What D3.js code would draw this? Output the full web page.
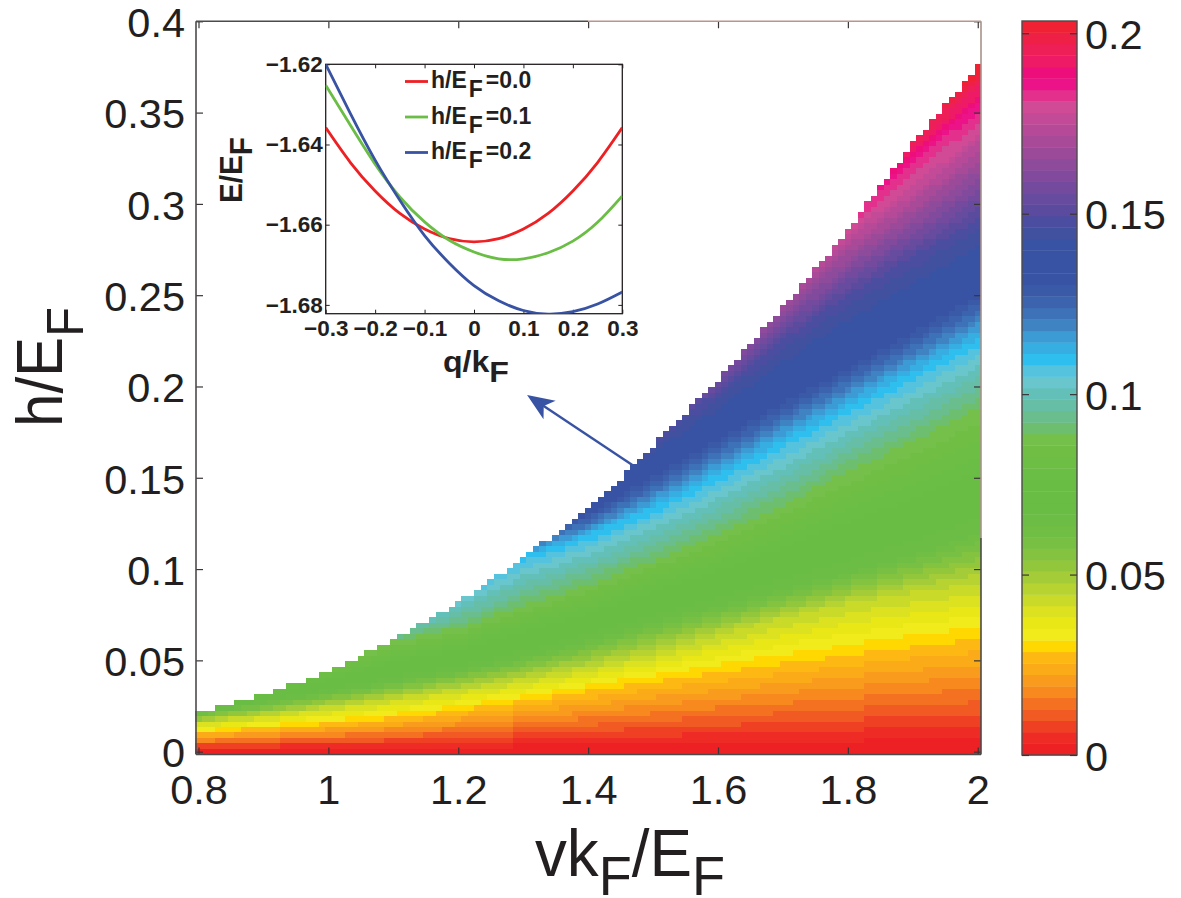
<!DOCTYPE html>
<html>
<head>
<meta charset="utf-8">
<script src="https://cdn.jsdelivr.net/npm/d3@7"></script>
<style>
  html, body { margin: 0; padding: 0; background: #fff; }
  svg { display: block; }
  text { font-family: "Liberation Sans", Arial, sans-serif; fill: #231f20; }
  .inset text { font-weight: bold; }
</style>
</head>
<body>
<div id="chart"></div>
<script>
var xTicks = [0.8, 1, 1.2, 1.4, 1.6, 1.8, 2];
var yTicks = [0, 0.05, 0.1, 0.15, 0.2, 0.25, 0.3, 0.35, 0.4];
var xTickLabels = ["0.8", "1", "1.2", "1.4", "1.6", "1.8", "2"];
var yTickLabels = ["0", "0.05", "0.1", "0.15", "0.2", "0.25", "0.3", "0.35", "0.4"];
var barTicks = [0, 0.05, 0.1, 0.15, 0.2];
var barTickLabels = ["0", "0.05", "0.1", "0.15", "0.2"];

// 64 colours of the bar, bottom to top
var colormap = [
  "#ed2024", "#ef2b25", "#f04024", "#f15a22", "#f47121", "#f7891f", "#f99b1c", "#fbaa18",
  "#fdb813", "#ffd802", "#f1eb1c", "#eae716", "#dce120", "#c9da29", "#b6d331", "#a3cc38",
  "#92c73c", "#84c33f", "#78c043", "#70be44", "#6bbd45", "#69bd45", "#69bd45", "#69bd45",
  "#6abd45", "#6dbe45", "#70bf44", "#74c04a", "#6dbe6e", "#6abd8c", "#66bea6", "#63c0b8",
  "#68c6cc", "#55c3dd", "#2fbfef", "#37aee2", "#3c9ad4", "#3f83c2", "#3d72b8", "#3c63ae",
  "#3a5aa8", "#3953a4", "#3953a4", "#3953a4", "#3953a4", "#41509f", "#4b4da0", "#5a4b9f",
  "#664b9f", "#744a9f", "#814a9d", "#8e4a9b", "#9b4a99", "#a94a98", "#b64a98", "#c24a97",
  "#d04a96", "#e3308d", "#ec1287", "#ed0e7c", "#ee1a66", "#ee1f56", "#ef2045", "#ef2132"
];
var barMax = 0.2034;

var sampleV = [0.8, 0.9, 1.0, 1.1, 1.2, 1.3, 1.4, 1.5, 1.6, 1.7, 1.8, 1.9, 2.0];
// upper edge of the coloured region
var edgeH = [0.0212, 0.0310, 0.0437, 0.0612, 0.0820, 0.1062, 0.1324, 0.1675, 0.2035, 0.2430, 0.2857, 0.3334, 0.3750];

// h where the map reaches each colour level (values beyond the edge are never drawn)
var levels = [0, 0.0302, 0.0445, 0.0636, 0.0890, 0.1097, 0.1336, 0.1479, 0.1780, 0.1850, 0.2034];
var levelH0 = [0, 0, 0, 0, 0, 0, 0, 0, 0, 0, 0, 0, 0];
var levelH1 = [0.0108, 0.0135, 0.0163, 0.0195, 0.0239, 0.0294, 0.0349, 0.0404, 0.0458, 0.0508, 0.0557, 0.0606, 0.0650];
var levelH2 = [0.0163, 0.0201, 0.0245, 0.0294, 0.0343, 0.0398, 0.0464, 0.0540, 0.0634, 0.0732, 0.0814, 0.0875, 0.0924];
var levelH3 = [0.0212, 0.0267, 0.0321, 0.0382, 0.0442, 0.0513, 0.0601, 0.0705, 0.0798, 0.0885, 0.0979, 0.1077, 0.1187];
var levelH4 = [0.0283, 0.0365, 0.0475, 0.0601, 0.0677, 0.0803, 0.0913, 0.1050, 0.1190, 0.1350, 0.1540, 0.1700, 0.1880];
var levelH5 = [0.0338, 0.0447, 0.0557, 0.0694, 0.0869, 0.1061, 0.1176, 0.1324, 0.1504, 0.1690, 0.1877, 0.2063, 0.2249];
var levelH6 = [0.0393, 0.0530, 0.0666, 0.0831, 0.0995, 0.1187, 0.1313, 0.1532, 0.1734, 0.1937, 0.2134, 0.2331, 0.2528];
var levelH7 = [0.0436, 0.0612, 0.0776, 0.0940, 0.1105, 0.1241, 0.1433, 0.1700, 0.1960, 0.2240, 0.2490, 0.2693, 0.2895];
var levelH8 = [0.0502, 0.0694, 0.0858, 0.1022, 0.1187, 0.1351, 0.1543, 0.1926, 0.2227, 0.2556, 0.2846, 0.3092, 0.3388];
var levelH9 = [0.0557, 0.0749, 0.0913, 0.1077, 0.1241, 0.1406, 0.1597, 0.1981, 0.2282, 0.2638, 0.2923, 0.3240, 0.3514];
var levelH10 = [0.0612, 0.0803, 0.0968, 0.1132, 0.1296, 0.1460, 0.1652, 0.2035, 0.2337, 0.2704, 0.2994, 0.3420, 0.3760];
var levelTable = [levelH0, levelH1, levelH2, levelH3, levelH4, levelH5, levelH6, levelH7, levelH8, levelH9, levelH10];

// inset curves
var q = [-0.3, -0.25, -0.2, -0.15, -0.1, -0.05, 0, 0.05, 0.1, 0.15, 0.2, 0.25, 0.3];
var energy00 = [-1.6358, -1.6445, -1.6516, -1.6572, -1.6611, -1.6635, -1.6643, -1.6635, -1.6611, -1.6572, -1.6516, -1.6445, -1.6358];
var energy01 = [-1.6252, -1.6352, -1.6449, -1.6531, -1.6593, -1.6639, -1.6668, -1.6685, -1.6685, -1.6670, -1.6641, -1.6594, -1.6528];
var energy02 = [-1.6200, -1.6323, -1.6439, -1.6539, -1.6627, -1.6696, -1.6752, -1.6790, -1.6814, -1.6823, -1.6817, -1.6798, -1.6768];
var insetSeries = [
  {label: "0.0", color: "#ed2024", values: energy00},
  {label: "0.1", color: "#6abd45", values: energy01},
  {label: "0.2", color: "#3953a4", values: energy02}
];
var qTicks = [-0.3, -0.2, -0.1, 0, 0.1, 0.2, 0.3];
var qTickLabels = ["\u22120.3", "\u22120.2", "\u22120.1", "0", "0.1", "0.2", "0.3"];
var eTicks = [-1.62, -1.64, -1.66, -1.68];
var eTickLabels = ["\u22121.62", "\u22121.64", "\u22121.66", "\u22121.68"];

var svg = d3.select("#chart").append("svg").attr("width", 1181).attr("height", 898);

// ---- main map
var dv = 0.01, dh = 0.003;
var x = d3.scaleLinear().domain([0.795, 2.005]).range([195.25, 981]);
var y = d3.scaleLinear().domain([-0.0015, 0.4]).range([754.4, 21.3]);
var color = d3.scaleQuantize().domain([0, barMax]).range(colormap);

var edgeAt = d3.scaleLinear().domain(sampleV).range(edgeH);
var levelAt = levelTable.map(function(col) { return d3.scaleLinear().domain(sampleV).range(col); });

// the raster is finer than what could be read: cells between the sampled columns
// and levels are placed by the d3 scales above
var cells = [];
d3.range(121).forEach(function(i) {
  var v = 0.8 + i * dv;
  var stops = levelAt.map(function(s) { return s(v); });
  var valueAt = d3.scaleLinear().domain(stops).range(levels);
  var top = edgeAt(v);
  d3.range(134).forEach(function(j) {
    var h = j * dh;
    if (h <= top) cells.push({v: v, h: h, value: valueAt(h)});
  });
});

svg.append("g").attr("class", "cells").attr("shape-rendering", "crispEdges")
  .selectAll("rect").data(cells).enter().append("rect")
  .attr("x", function(d) { return x(d.v - dv / 2); })
  .attr("y", function(d) { return y(d.h + dh / 2); })
  .attr("width", function(d) { return x(d.v + dv / 2) - x(d.v - dv / 2); })
  .attr("height", function(d) { return y(d.h - dh / 2) - y(d.h + dh / 2); })
  .attr("fill", function(d) { return color(d.value); });

// ticks on all four sides, pointing in
function styleAxis(g, size) {
  g.select(".domain").remove();
  g.selectAll("line").attr("stroke", "#3a3536").attr("stroke-width", 1.2);
  g.selectAll("text").attr("font-size", size).attr("fill", "#231f20");
}

var bottomAxis = d3.axisBottom(x).tickValues(xTicks).tickSizeInner(-7).tickSizeOuter(0).tickPadding(20)
  .tickFormat(function(d, i) { return xTickLabels[i]; });
var leftAxis = d3.axisLeft(y).tickValues(yTicks).tickSizeInner(-7).tickSizeOuter(0).tickPadding(11)
  .tickFormat(function(d, i) { return yTickLabels[i]; });
svg.append("g").attr("transform", "translate(0,754.4)").call(bottomAxis).call(styleAxis, 41.5);
svg.append("g").attr("transform", "translate(196,0)").call(leftAxis).call(styleAxis, 41.5)
  .selectAll("text").attr("y", 2);
svg.append("g").attr("transform", "translate(0,21.3)")
  .call(d3.axisTop(x).tickValues(xTicks).tickSizeInner(-7).tickSizeOuter(0).tickFormat(""))
  .call(styleAxis, 0);
svg.append("g").attr("transform", "translate(981,0)")
  .call(d3.axisRight(y).tickValues(yTicks).tickSizeInner(-7).tickSizeOuter(0).tickFormat(""))
  .call(styleAxis, 0);

// frame: the upper right part of it is paler in the original
var frameParts = [
  [196, 21.3, 196, 754.5, "#4d4a4b"],
  [196, 754.5, 981, 754.5, "#4d4a4b"],
  [981, 754.5, 981, 538, "#4d4a4b"],
  [981, 538, 981, 21.3, "#a8918a"],
  [981, 21.3, 588, 21.3, "#b8968c"],
  [588, 21.3, 196, 21.3, "#4d4a4b"]
];
svg.append("g").selectAll("line").data(frameParts).enter().append("line")
  .attr("x1", function(d) { return d[0]; }).attr("y1", function(d) { return d[1]; })
  .attr("x2", function(d) { return d[2]; }).attr("y2", function(d) { return d[3]; })
  .attr("stroke", function(d) { return d[4]; })
  .attr("stroke-width", 1.6);

// axis titles
var yTitle = svg.append("text")
  .attr("transform", "translate(62,427) rotate(-90)")
  .attr("font-size", 64)
  .attr("textLength", 120).attr("lengthAdjust", "spacingAndGlyphs");
yTitle.append("tspan").text("h/E");
yTitle.append("tspan").attr("dy", 21).attr("font-size", 52).text("F");

var xTitle = svg.append("text")
  .attr("x", 535).attr("y", 876)
  .attr("font-size", 66)
  .attr("textLength", 190).attr("lengthAdjust", "spacingAndGlyphs");
xTitle.append("tspan").text("vk");
xTitle.append("tspan").attr("dy", 19).attr("font-size", 56).text("F");
xTitle.append("tspan").attr("dy", -19).text("/E");
xTitle.append("tspan").attr("dy", 19).attr("font-size", 56).text("F");

// ---- colour bar
var barY = d3.scaleLinear().domain([0, barMax]).range([755, 21]);
var band = barMax / colormap.length;
var bar = svg.append("g");
bar.selectAll("rect").data(colormap).enter().append("rect")
  .attr("x", 1022).attr("width", 55)
  .attr("y", function(d, i) { return barY((i + 1) * band); })
  .attr("height", barY(0) - barY(band) + 0.4)
  .attr("fill", function(d) { return d; });
bar.append("rect").attr("x", 1022).attr("y", 21).attr("width", 55).attr("height", 734)
  .attr("fill", "none").attr("stroke", "#4d4a4b").attr("stroke-width", 1.4);
svg.append("g").attr("transform", "translate(1022,0)")
  .call(d3.axisRight(barY).tickValues(barTicks).tickSizeInner(7).tickSizeOuter(0).tickFormat(""))
  .call(styleAxis, 0);
svg.append("g").attr("transform", "translate(1077,0)")
  .call(d3.axisRight(barY).tickValues(barTicks).tickSizeInner(-7).tickSizeOuter(0).tickPadding(8)
    .tickFormat(function(d, i) { return barTickLabels[i]; }))
  .call(styleAxis, 41.5)
  .selectAll("text").attr("y", 2);

// ---- arrow from the map edge to the inset
var arrowTail = [1.475, 0.1554], arrowTip = [1.306, 0.1953];
var ax0 = x(arrowTail[0]), ay0 = y(arrowTail[1]), ax1 = x(arrowTip[0]), ay1 = y(arrowTip[1]);
var arrowAngle = Math.atan2(ay1 - ay0, ax1 - ax0) * 180 / Math.PI;
svg.append("line")
  .attr("x1", ax0).attr("y1", ay0)
  .attr("x2", ax1 + (ax0 - ax1) * 0.1).attr("y2", ay1 + (ay0 - ay1) * 0.1)
  .attr("stroke", "#3953a4").attr("stroke-width", 2.4);
svg.append("path")
  .attr("d", "M0,0L-27,-11L-20,0L-27,11Z")
  .attr("transform", "translate(" + ax1 + "," + ay1 + ") rotate(" + arrowAngle + ")")
  .attr("fill", "#3953a4");

// ---- inset
var inset = svg.append("g").attr("class", "inset");
var qx = d3.scaleLinear().domain([-0.3, 0.3]).range([325.7, 622.3]);
var ey = d3.scaleLinear().domain([-1.62, -1.6822]).range([64.3, 313.7]);

inset.append("clipPath").attr("id", "inset-clip").append("rect")
  .attr("x", 325.7).attr("y", 64.3).attr("width", 296.6).attr("height", 249.4);

function styleInsetAxis(g) {
  g.select(".domain").remove();
  g.selectAll("line").attr("stroke", "#231f20").attr("stroke-width", 1);
  g.selectAll("text").attr("font-size", 22.5).attr("font-weight", "bold").attr("fill", "#231f20");
}
inset.append("g").attr("transform", "translate(0,313.7)")
  .call(d3.axisBottom(qx).tickValues(qTicks).tickSizeInner(-4).tickSizeOuter(0).tickPadding(6)
    .tickFormat(function(d, i) { return qTickLabels[i]; }))
  .call(styleInsetAxis);
inset.append("g").attr("transform", "translate(325.7,0)")
  .call(d3.axisLeft(ey).tickValues(eTicks).tickSizeInner(-4).tickSizeOuter(0).tickPadding(3)
    .tickFormat(function(d, i) { return eTickLabels[i]; }))
  .call(styleInsetAxis);
inset.append("g").attr("transform", "translate(0,64.3)")
  .call(d3.axisTop(qx).tickValues(qTicks).tickSizeInner(-4).tickSizeOuter(0).tickFormat(""))
  .call(styleInsetAxis);
inset.append("g").attr("transform", "translate(622.3,0)")
  .call(d3.axisRight(ey).tickValues(eTicks).tickSizeInner(-4).tickSizeOuter(0).tickFormat(""))
  .call(styleInsetAxis);
inset.append("rect").attr("x", 325.7).attr("y", 64.3).attr("width", 296.6).attr("height", 249.4)
  .attr("fill", "none").attr("stroke", "#231f20").attr("stroke-width", 1.3);

var line = d3.line()
  .x(function(d, i) { return qx(q[i]); })
  .y(function(d) { return ey(d); })
  .curve(d3.curveNatural);

inset.append("g").attr("clip-path", "url(#inset-clip)")
  .selectAll("path").data(insetSeries).enter().append("path")
  .attr("d", function(d) { return line(d.values); })
  .attr("fill", "none")
  .attr("stroke", function(d) { return d.color; })
  .attr("stroke-width", 2.8);

// legend
var legendRow = d3.scaleLinear().domain([0, 2]).range([88, 159]);
var legend = inset.selectAll(".legend").data(insetSeries).enter().append("g")
  .attr("class", "legend")
  .attr("transform", function(d, i) { return "translate(0," + legendRow(i) + ")"; });
legend.append("line")
  .attr("x1", 405).attr("x2", 428).attr("y1", -6.5).attr("y2", -6.5)
  .attr("stroke", function(d) { return d.color; }).attr("stroke-width", 2.8);
var legendText = legend.append("text").attr("x", 431).attr("font-size", 23);
legendText.append("tspan").text("h/E");
legendText.append("tspan").attr("dy", 9).attr("dx", 2).text("F");
legendText.append("tspan").attr("dy", -9).attr("dx", 3).text(function(d) { return "=" + d.label; });

// inset titles
var eTitle = inset.append("text")
  .attr("transform", "translate(242,203) rotate(-90)")
  .attr("font-size", 31)
  .attr("textLength", 66).attr("lengthAdjust", "spacingAndGlyphs");
eTitle.append("tspan").text("E/E");
eTitle.append("tspan").attr("dy", 10).text("F");

var qTitle = inset.append("text")
  .attr("x", 443).attr("y", 372)
  .attr("font-size", 30)
  .attr("textLength", 66).attr("lengthAdjust", "spacingAndGlyphs");
qTitle.append("tspan").text("q/k");
qTitle.append("tspan").attr("dy", 10).text("F");
</script>
</body>
</html>
